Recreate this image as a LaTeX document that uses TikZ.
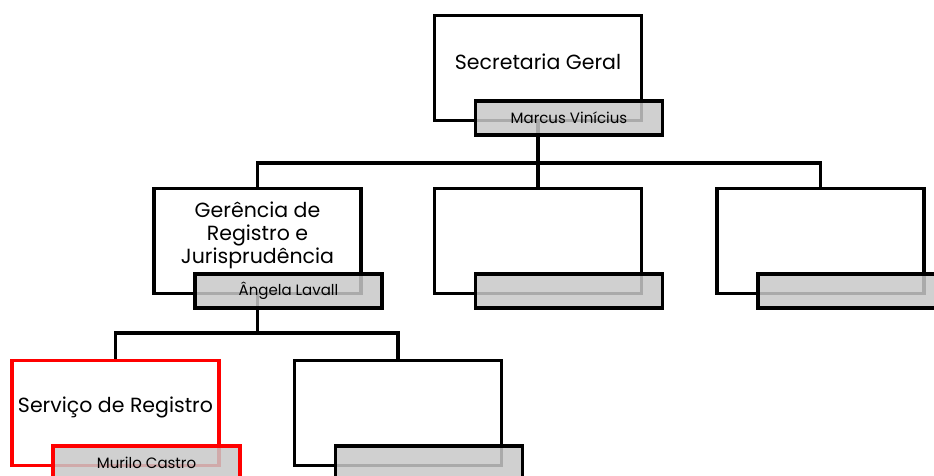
\documentclass[tikz,border=0pt]{standalone}
\usepackage{fontspec}
\setmainfont{Poppins}
\usetikzlibrary{positioning,backgrounds}
\definecolor{boxgray}{RGB}{200,200,200}
\tikzset{
  unitbox/.style={draw, line width=3.5pt, fill=white, minimum width=207pt, minimum height=105pt, inner sep=0pt},
  namebox/.style={draw, line width=3.5pt, fill=boxgray, fill opacity=0.85, text opacity=1, minimum width=187pt, minimum height=34pt, inner sep=0pt, anchor=north west, font=\fontsize{15}{18}\selectfont},
  unittitle/.style={font=\fontsize{20.5}{23}\selectfont, align=center, yshift=6pt},
  conn/.style={line width=3.5pt},
}
\begin{document}
\begin{tikzpicture}[x=1pt, y=-1pt]
  \useasboundingbox (0,0) rectangle (934,475);

  % first level
  \node[unitbox, label={[unittitle]center:Secretaria Geral}] (sg) at (538,68) {};
  \node[namebox] (sg-n) at ([shift={(41pt,23pt)}]sg.south west) {Marcus Vinícius};

  % second level
  \node[unitbox, label={[unittitle]center:Gerência de\\Registro e\\Jurisprudência}] (grj) at (257.5,241) {};
  \node[namebox] (grj-n) at ([shift={(41pt,23pt)}]grj.south west) {Ângela Lavall};
  \node[unitbox] (u2) at (538,241) {};
  \node[namebox] (u2-n) at ([shift={(41pt,23pt)}]u2.south west) {};
  \node[unitbox] (u3) at (820.5,241) {};
  \node[namebox] (u3-n) at ([shift={(41pt,23pt)}]u3.south west) {};

  % third level
  \node[unitbox, draw=red, label={[unittitle]center:Serviço de Registro}] (sr) at (115.5,413) {};
  \node[namebox, draw=red] (sr-n) at ([shift={(41pt,23pt)}]sr.south west) {Murilo Castro};
  \node[unitbox] (u5) at (398,413) {};
  \node[namebox] (u5-n) at ([shift={(41pt,23pt)}]u5.south west) {};

  \begin{pgfonlayer}{background}
    \draw[conn] (grj.north) -- ([yshift=24pt]grj.north) coordinate (bus1) -| (u3.north);
    \draw[conn] (sg.south) -- (sg.south |- bus1);
    \draw[conn] (u2.north) -- (u2.north |- bus1);
    \draw[conn] (sr.north) -- ([yshift=26pt]sr.north) coordinate (bus2) -| (u5.north);
    \draw[conn] (grj.south) -- (grj.south |- bus2);
  \end{pgfonlayer}
\end{tikzpicture}
\end{document}
